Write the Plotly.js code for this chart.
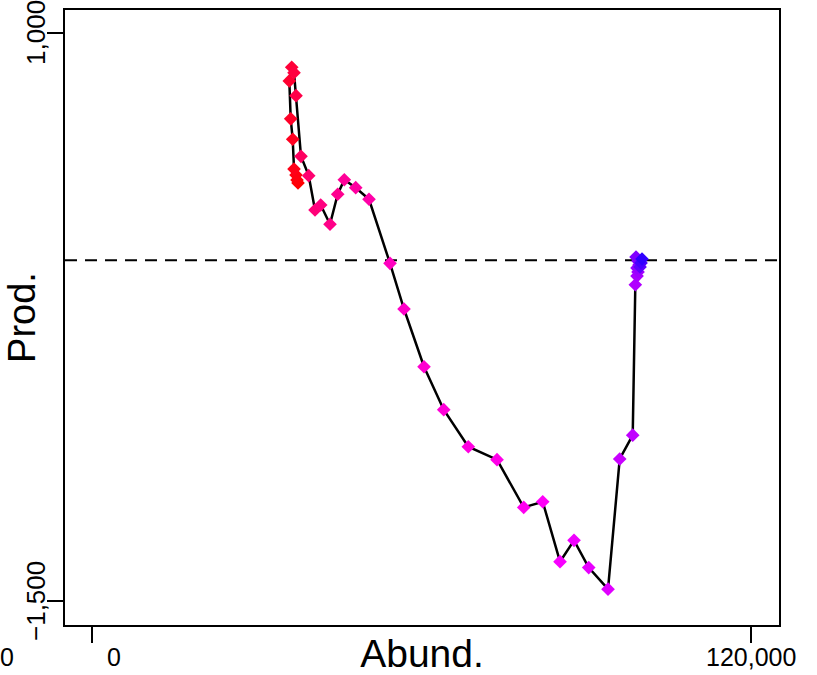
<!DOCTYPE html>
<html>
<head>
<meta charset="utf-8">
<script src="https://cdn.plot.ly/plotly-3.0.1.min.js"></script>
<style>html,body{margin:0;padding:0;background:#fff;}#chart{width:817px;height:675px;}</style>
</head>
<body>
<div id="chart"></div>
<script>
// Data (path in time order)
const abund = [37513, 37331, 37148, 36784, 36547, 36183, 35929, 36366, 36784, 37148,
  38058, 39461, 40608, 41646, 43339, 44742, 45943, 48019, 50441, 54265,
  56815, 60457, 64045, 68524, 73751, 78613, 82073, 85223, 87772, 90449,
  93964, 96095, 98462, 98936, 99245, 99427, 99245, 99609, 99427, 99063,
  99791, 99973, 100155];
const prod = [340, 353, 375, 401, 532, 622, 789, 849, 825, 724,
  457, 372, 221, 243, 158, 290, 354, 319, 268, -14,
  -215, -469, -658, -821, -878, -1088, -1063, -1327, -1233, -1353,
  -1448, -875, -770, -108, -70, -52, -34, -21, -4, 14,
  -30, -12, 5];
const pointColors = ['#FF0000','#FF0008','#FF0010','#FF0018','#FF0020','#FF0028','#FF0030','#FF0038','#FF0040','#FF0048',
  '#FF0060','#FF0070','#FF0078','#FF0080','#FF0088','#FF0090','#FF0098','#FF00A0','#FF00A8','#FF00C0',
  '#FF00C8','#FF00D0','#FF00D8','#FF00E0','#FF00E8','#FF00F0','#FF00F8','#F800FF','#F000FF','#E800FF',
  '#E000FF','#C800FF','#C000FF','#B000FF','#A800FF','#A000FF','#9800FF','#9000FF','#8800FF','#8000FF',
  '#6000FF','#4800FF','#3000FF'];
const yTickVals = [-1500, 1000];
const yTickText = ['\u22121,500', '1,000'];
const xTickVals = [0, 120000];
const xTickText = ['0', '120,000'];
const refLine = 0;

const font = 'Liberation Sans, Arial, Helvetica, sans-serif';
const L = 65, R = 779, T = 10, B = 625;
const px2paperX = p => (p - L) / (R - L);
const px2paperY = p => (B - p) / (B - T);

const trace = {
  x: abund, y: prod, type: 'scatter', mode: 'lines+markers',
  line: {color: '#000', width: 2.5},
  marker: {symbol: 'diamond', size: 10.5, color: pointColors, line: {width: 0}},
  hoverinfo: 'x+y', showlegend: false
};

const tickFont = {family: font, size: 25, color: '#000'};
const yTickFont = {family: font, size: 26, color: '#000'};
const annotations = [
  // x tick labels (the reference draws the "0" offset to the right of its tick, plus a stray "0" at the far left)
  {text: xTickText[0], xref: 'paper', yref: 'paper', x: px2paperX(114), y: px2paperY(657),
   xanchor: 'center', yanchor: 'middle', showarrow: false, font: tickFont},
  {text: xTickText[1], xref: 'x', yref: 'paper', x: xTickVals[1], y: px2paperY(657),
   xanchor: 'center', yanchor: 'middle', showarrow: false, font: tickFont},
  {text: '0', xref: 'paper', yref: 'paper', x: px2paperX(7), y: px2paperY(657),
   xanchor: 'center', yanchor: 'middle', showarrow: false, font: tickFont},
  // y tick labels, rotated
  {text: yTickText[0], xref: 'paper', yref: 'y', x: px2paperX(36), y: yTickVals[0],
   xanchor: 'center', yanchor: 'middle', textangle: -90, showarrow: false, font: yTickFont},
  {text: yTickText[1], xref: 'paper', yref: 'y', x: px2paperX(36), y: yTickVals[1],
   xanchor: 'center', yanchor: 'middle', textangle: -90, showarrow: false, font: yTickFont}
];

const layout = {
  width: 817, height: 675,
  margin: {l: L, r: 817 - R, t: T, b: 675 - B, pad: 0},
  paper_bgcolor: '#fff', plot_bgcolor: '#fff',
  font: {family: font, color: '#000', size: 24},
  xaxis: {
    range: [-4917, 125098], showgrid: false, zeroline: false,
    showline: true, linecolor: '#000', linewidth: 2, mirror: true,
    ticks: 'outside', ticklen: 16, tickwidth: 2, tickcolor: '#000',
    tickmode: 'array', tickvals: xTickVals, showticklabels: false,
    title: {text: 'Abund.', font: {family: font, size: 39, color: '#000'}, standoff: 0}
  },
  yaxis: {
    range: [-1605.6, 1101], showgrid: false, zeroline: false,
    showline: true, linecolor: '#000', linewidth: 2, mirror: true,
    ticks: 'outside', ticklen: 16, tickwidth: 2, tickcolor: '#000',
    tickmode: 'array', tickvals: yTickVals, showticklabels: false,
    title: {text: 'Prod.', font: {family: font, size: 38, color: '#000'}, standoff: 0}
  },
  shapes: [{
    type: 'line', xref: 'paper', x0: 0, x1: 1, yref: 'y', y0: refLine, y1: refLine,
    line: {color: '#000', width: 2, dash: '12px,8px'}, layer: 'below'
  }],
  annotations: annotations
};

Plotly.newPlot('chart', [trace], layout, {displayModeBar: false, staticPlot: true});
</script>
</body>
</html>
